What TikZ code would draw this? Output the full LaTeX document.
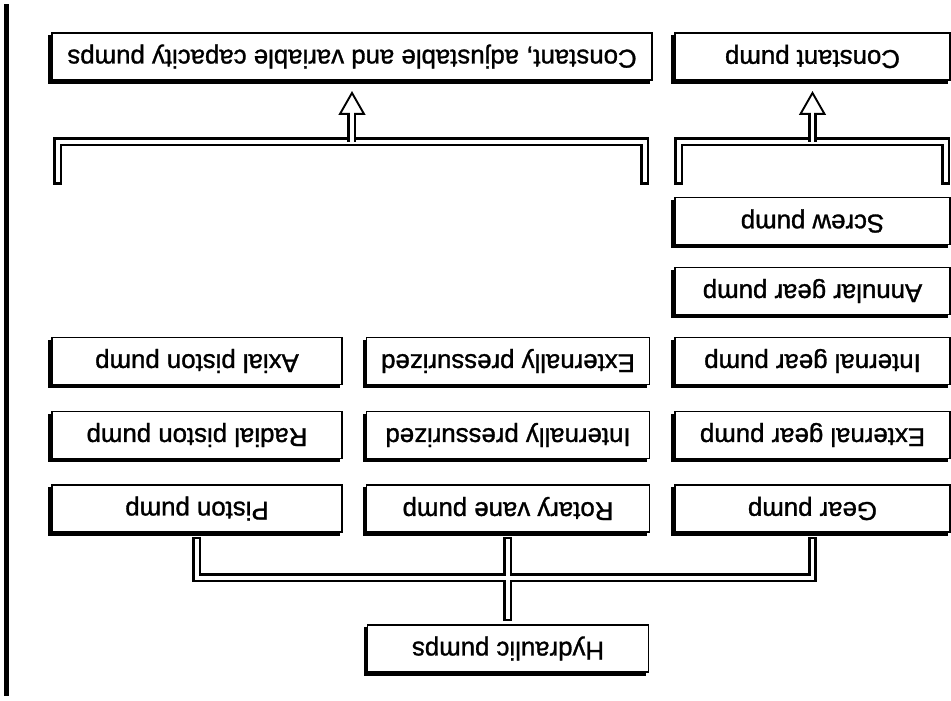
\documentclass[tikz,border=0pt]{standalone}
\usepackage{fontspec}
\setmainfont{Liberation Sans}
\newfontfamily\boxfont[FakeBold=1.2]{Liberation Sans}
\begin{document}
\begin{tikzpicture}[x=1pt,y=1pt,rotate=180,transform shape,
  box/.style={draw, line width=1.9pt, fill=white, inner sep=0pt, minimum height=47pt,
    font=\boxfont\fontsize{25.8}{28}\selectfont,
    preaction={fill=black, draw=black, transform canvas={shift={(-3pt,-3pt)}}}},
  pipeout/.style={line width=9pt, black, line join=miter},
  pipein/.style={line width=3.5pt, white, line join=miter, shorten <=2.5pt, shorten >=2.5pt},
  head/.style={line width=1.9pt, fill=white, line join=miter}]
\useasboundingbox (0,0) rectangle (951,-701);
% frame line
\coordinate (ft) at (944.5,-5);
\coordinate (fb) at (944.5,-697);
\draw[line width=4.5pt] (ft) -- (fb);
% boxes
\node[box, minimum width=281pt] (hyd) at (443,-52.5) {Hydraulic pumps};
\node[box, minimum width=290pt] (piston) at (754,-192.5) {Piston pump};
\node[box, minimum width=290pt] (radial) at (754,-266) {Radial piston pump};
\node[box, minimum width=290pt] (axial) at (754,-340) {Axial piston pump};
\node[box, minimum width=283pt] (rotary) at (443,-192.5) {Rotary vane pump};
\node[box, minimum width=283pt] (intp) at (443,-266) {Internally pressurized};
\node[box, minimum width=283pt] (extp) at (443,-340) {Externally pressurized};
\node[box, minimum width=275pt] (gear) at (138.5,-192.5) {Gear pump};
\node[box, minimum width=275pt] (extg) at (138.5,-266) {External gear pump};
\node[box, minimum width=275pt] (intg) at (138.5,-340) {Internal gear pump};
\node[box, minimum width=275pt] (annular) at (138.5,-410) {Annular gear pump};
\node[box, minimum width=275pt] (screw) at (138.5,-480) {Screw pump};
\node[box, minimum width=275pt] (const) at (138.5,-644.5) {Constant pump};
\node[box, minimum width=600pt] (cav) at (599,-644.5) {Constant, adjustable and variable capacity pumps};
% lower tree
\coordinate (bar) at (0,-123);
\foreach \st in {pipeout,pipein}{
  \draw[\st] ([yshift=-3pt]hyd.south) -- ([yshift=4pt]rotary.north);
  \draw[\st] ([yshift=4pt]piston.north) -- (piston.north |- bar) -- (gear.north |- bar) -- ([yshift=4pt]gear.north);
}
% upper brackets
\coordinate (lb1) at (306,-516);
\coordinate (lb2) at (893,-516);
\coordinate (rb1) at (5,-516);
\coordinate (rb2) at (272,-516);
\coordinate (ubar) at (0,-559);
\foreach \st in {pipeout,pipein}{
  \draw[\st] (lb1) -- (lb1 |- ubar) -- (lb2 |- ubar) -- (lb2);
  \draw[\st] (rb1) -- (rb1 |- ubar) -- (rb2 |- ubar) -- (rb2);
}
\draw[pipeout] (cav.north |- ubar) -- ([yshift=30pt]cav.north);
\draw[pipeout] (const.north |- ubar) -- ([yshift=30pt]const.north);
\draw[head] ([shift={(-12pt,33pt)}]cav.north) -- ([shift={(12pt,33pt)}]cav.north) -- ([yshift=12pt]cav.north) -- cycle;
\draw[head] ([shift={(-12pt,33pt)}]const.north) -- ([shift={(12pt,33pt)}]const.north) -- ([yshift=12pt]const.north) -- cycle;
\draw[white, line width=3.5pt] (cav.north |- ubar) -- ([yshift=30pt]cav.north);
\draw[white, line width=3.5pt] (const.north |- ubar) -- ([yshift=30pt]const.north);
\end{tikzpicture}
\end{document}
